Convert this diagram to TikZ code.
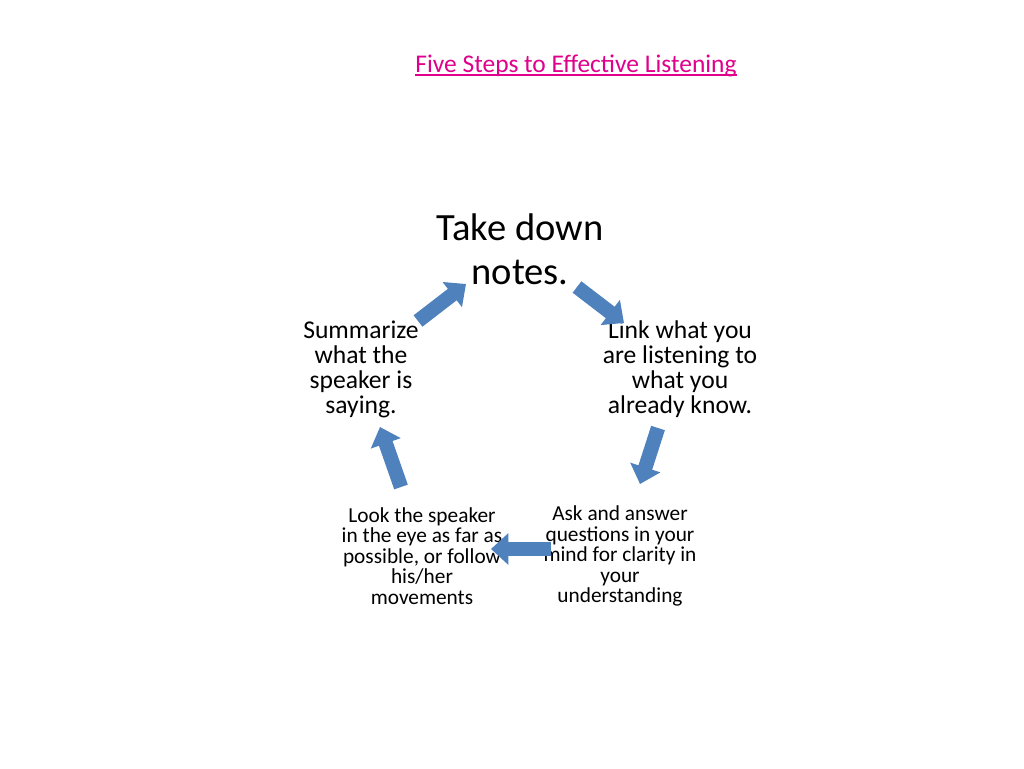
\documentclass[tikz,border=0pt]{standalone}
\usepackage{fontspec}
\setmainfont{Carlito}
\usetikzlibrary{arrows.meta}
\definecolor{titlemag}{RGB}{224,0,140}
\definecolor{arrowblue}{RGB}{79,129,189}
\tikzset{
  blockarrow/.style={draw=arrowblue, line width=10.8pt, line cap=butt,
    -{Triangle[width=23pt,length=13pt]}},
  bigtxt/.style={align=center, inner sep=0pt, font=\fontsize{28.9}{33}\selectfont},
  midtxt/.style={align=center, inner sep=0pt, font=\fontsize{19.2}{18.8}\selectfont},
  smalltxt/.style={align=center, inner sep=0pt, font=\fontsize{16}{15.4}\selectfont},
}
\begin{document}
\begin{tikzpicture}[x=0.75pt,y=-0.75pt]
\useasboundingbox[fill=white] (0,0) rectangle (1024,768);
\node[text=titlemag, inner sep=0pt, font=\fontsize{19.1}{22}\selectfont] (title) at (576,66) {Five Steps to Effective Listening};
\draw[titlemag, line width=1.3pt] (title.south west) ++(0,-2) coordinate (ul1) -- (ul1 -| title.south east);
\node[bigtxt] (notes) at (520,249) {Take down\\notes.};
\node[midtxt] (summ) at (361,369) {Summarize\\what the\\speaker is\\saying.};
\node[midtxt] (link) at (680,369) {Link what you\\are listening to\\what you\\already know.};
\node[smalltxt] (look) at (422,556) {Look the speaker\\in the eye as far as\\possible, or follow\\his/her\\movements};
\node[smalltxt] (ask) at (620,556) {Ask and answer\\questions in your\\mind for clarity in\\your\\understanding};
\coordinate (a1s) at (418,321); \coordinate (a1e) at (466,284);
\coordinate (a2s) at (577,287); \coordinate (a2e) at (624,323);
\coordinate (a3s) at (658,428); \coordinate (a3e) at (640,484);
\coordinate (a4s) at (551,549); \coordinate (a4e) at (491,549);
\coordinate (a5s) at (401,487); \coordinate (a5e) at (380,427);
\draw[blockarrow] (a1s) -- (a1e);
\draw[blockarrow] (a2s) -- (a2e);
\draw[blockarrow] (a3s) -- (a3e);
\draw[blockarrow] (a4s) -- (a4e);
\draw[blockarrow] (a5s) -- (a5e);
\end{tikzpicture}
\end{document}
